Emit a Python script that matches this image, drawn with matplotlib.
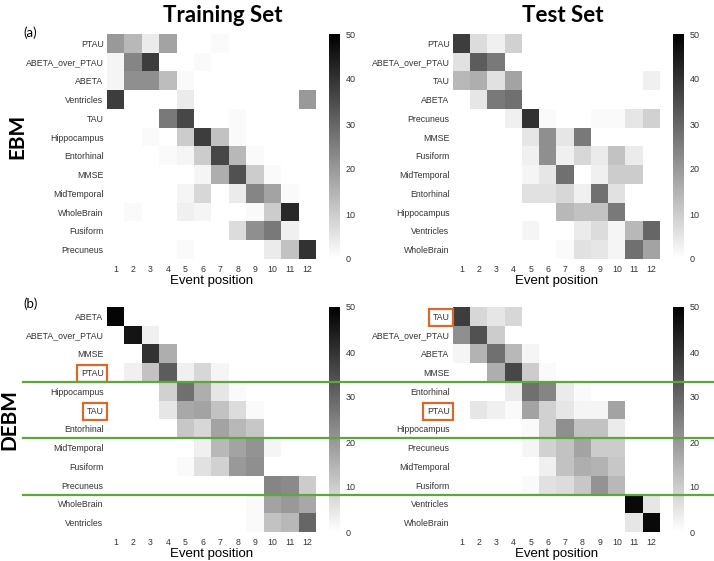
import matplotlib
matplotlib.use('Agg')
import matplotlib.pyplot as plt
from matplotlib.lines import Line2D
from matplotlib.transforms import blended_transform_factory

posicoes = [str(i) for i in range(1, 13)]

# (a) EBM - treino
ebm_treino_nomes = ['PTAU', 'ABETA_over_PTAU', 'ABETA', 'Ventricles', 'TAU',
                    'Hippocampus', 'Entorhinal', 'MMSE', 'MidTemporal',
                    'WholeBrain', 'Fusiform', 'Precuneus']
ebm_treino = [
    [20, 14, 4, 18, 0, 0, 1, 0, 0, 0, 0, 0],
    [2, 24, 38, 0, 0, 1, 0, 0, 0, 0, 0, 0],
    [2, 22, 22, 13, 1, 0, 0, 0, 0, 0, 0, 0],
    [38, 0, 0, 0, 4, 0, 0, 0, 0, 0, 0, 20],
    [0, 0, 0, 26, 36, 0, 0, 1, 0, 0, 0, 0],
    [0, 0, 1, 0, 10, 38, 12, 1, 0, 0, 0, 0],
    [0, 0, 0, 1, 2, 10, 36, 14, 1, 0, 0, 0],
    [0, 0, 0, 0, 0, 2, 16, 34, 10, 1, 0, 0],
    [0, 0, 0, 0, 2, 8, 0, 4, 24, 18, 1, 0],
    [0, 1, 0, 0, 3, 2, 0, 0, 1, 10, 42, 0],
    [0, 0, 0, 0, 0, 0, 0, 7, 22, 26, 3, 0],
    [0, 0, 0, 0, 1, 0, 0, 0, 0, 4, 12, 40],
]

# (a) EBM - teste
ebm_teste_nomes = ['PTAU', 'ABETA_over_PTAU', 'TAU', 'ABETA', 'Precuneus',
                   'MMSE', 'Fusiform', 'MidTemporal', 'Entorhinal',
                   'Hippocampus', 'Ventricles', 'WholeBrain']
ebm_teste = [
    [38, 7, 3, 9, 0, 0, 0, 0, 0, 0, 0, 0],
    [6, 32, 26, 0, 0, 0, 0, 0, 0, 0, 0, 0],
    [14, 16, 6, 18, 0, 0, 0, 0, 0, 0, 0, 3],
    [0, 5, 26, 28, 0, 0, 0, 0, 0, 0, 0, 0],
    [0, 0, 0, 3, 40, 1, 0, 0, 1, 1, 5, 9],
    [0, 0, 0, 0, 5, 22, 5, 26, 0, 0, 0, 0],
    [0, 0, 0, 0, 3, 22, 3, 8, 4, 12, 4, 0],
    [0, 0, 0, 0, 2, 5, 28, 0, 3, 10, 10, 0],
    [0, 0, 0, 0, 6, 6, 8, 3, 28, 6, 0, 0],
    [0, 0, 0, 0, 0, 0, 14, 12, 12, 26, 0, 0],
    [0, 0, 0, 0, 2, 0, 0, 4, 7, 2, 14, 30],
    [0, 0, 0, 0, 0, 0, 1, 6, 5, 2, 28, 18],
]

# (b) DEBM - treino
debm_treino_nomes = ['ABETA', 'ABETA_over_PTAU', 'MMSE', 'PTAU', 'Hippocampus',
                     'TAU', 'Entorhinal', 'MidTemporal', 'Fusiform',
                     'Precuneus', 'WholeBrain', 'Ventricles']
debm_treino = [
    [49, 0, 0, 0, 0, 0, 0, 0, 0, 0, 0, 0],
    [0, 46, 3, 0, 0, 0, 0, 0, 0, 0, 0, 0],
    [0, 0, 40, 16, 0, 0, 0, 0, 0, 0, 0, 0],
    [0, 3, 12, 32, 3, 8, 2, 0, 0, 0, 0, 0],
    [0, 0, 0, 9, 28, 16, 5, 1, 0, 0, 0, 0],
    [0, 0, 0, 5, 17, 18, 12, 7, 1, 0, 0, 0],
    [0, 0, 0, 0, 11, 8, 18, 14, 11, 0, 0, 0],
    [0, 0, 0, 0, 0, 3, 14, 18, 21, 2, 0, 0],
    [0, 0, 0, 0, 1, 6, 9, 20, 22, 0, 0, 0],
    [0, 0, 0, 0, 0, 0, 0, 0, 0, 24, 23, 10],
    [0, 0, 0, 0, 0, 0, 0, 0, 1, 18, 20, 17],
    [0, 0, 0, 0, 0, 0, 0, 0, 1, 12, 14, 30],
]

# (b) DEBM - teste
debm_teste_nomes = ['TAU', 'ABETA_over_PTAU', 'ABETA', 'MMSE', 'Entorhinal',
                    'PTAU', 'Hippocampus', 'Precuneus', 'MidTemporal',
                    'Fusiform', 'Ventricles', 'WholeBrain']
debm_teste = [
    [38, 8, 5, 8, 0, 0, 0, 0, 0, 0, 0, 0],
    [22, 34, 10, 0, 0, 0, 0, 0, 0, 0, 0, 0],
    [2, 15, 28, 14, 2, 0, 0, 0, 0, 0, 0, 0],
    [0, 0, 16, 36, 10, 1, 0, 0, 0, 0, 0, 0],
    [0, 0, 0, 4, 28, 24, 4, 1, 0, 0, 0, 0],
    [0, 5, 3, 1, 18, 9, 5, 2, 2, 18, 0, 0],
    [0, 0, 0, 0, 1, 9, 22, 12, 12, 4, 0, 0],
    [0, 0, 0, 0, 2, 9, 12, 18, 10, 10, 0, 0],
    [0, 0, 0, 0, 0, 3, 12, 16, 15, 11, 0, 0],
    [0, 0, 0, 0, 1, 6, 7, 11, 21, 14, 0, 0],
    [0, 0, 0, 0, 0, 0, 0, 0, 0, 0, 48, 5],
    [0, 0, 0, 0, 0, 0, 0, 0, 0, 0, 5, 48],
]

caixas_treino = ['PTAU', 'TAU']
caixas_teste = ['TAU', 'PTAU']
divisoes = [4, 7, 10]

plt.rcParams['font.family'] = ['Liberation Sans', 'DejaVu Sans']

W, H = 714, 561
fig = plt.figure(figsize=(W / 100, H / 100), dpi=100)


def caixa(x0, y0, x1, y1):
    return [x0 / W, 1 - y1 / H, (x1 - x0) / W, (y1 - y0) / H]


def desenha(pos_ax, pos_cb, matriz, nomes, destacar=()):
    ax = fig.add_axes(caixa(*pos_ax))
    cax = fig.add_axes(caixa(*pos_cb))
    im = ax.imshow(matriz, cmap='gray_r', vmin=0, vmax=50, aspect='auto',
                   interpolation='nearest')
    ax.set_xticks(range(len(posicoes)))
    ax.set_xticklabels(posicoes, fontsize=6.3, color='#333333')
    ax.set_yticks(range(len(nomes)))
    ax.set_yticklabels(nomes, fontsize=6.3, color='#333333')
    ax.tick_params(length=0, pad=2.5)
    ax.tick_params(axis='x', pad=4)
    for s in ax.spines.values():
        s.set_visible(False)
    ax.set_xlabel('Event position', fontsize=9.5, labelpad=1)
    for lbl in ax.get_yticklabels():
        if lbl.get_text() in destacar:
            lbl.set_bbox(dict(boxstyle='square,pad=0.45', facecolor='white',
                              edgecolor='#D8692A', linewidth=1.6))
    cb = fig.colorbar(im, cax=cax, ticks=[0, 10, 20, 30, 40, 50])
    cb.outline.set_visible(False)
    cb.ax.tick_params(length=0, labelsize=6.5, pad=4, colors='#333333')
    return ax


desenha((107, 34, 316, 259), (329, 34, 340, 259), ebm_treino, ebm_treino_nomes)
desenha((453, 34, 660, 259), (673, 34, 684, 259), ebm_teste, ebm_teste_nomes)
ax_b = desenha((107, 307, 316, 532), (329, 307, 340, 532), debm_treino,
               debm_treino_nomes, caixas_treino)
desenha((453, 307, 660, 532), (673, 307, 684, 532), debm_teste,
        debm_teste_nomes, caixas_teste)

# linhas verdes separando grupos
trans = blended_transform_factory(fig.transFigure, ax_b.transData)
for d in divisoes:
    fig.add_artist(Line2D([23 / W, 1.0], [d - 0.5, d - 0.5], transform=trans,
                          color='#5DA83B', linewidth=1.6, clip_on=False))

fig.text(223 / W, 1 - 15 / H, 'Training Set', fontsize=16, fontweight='bold',
         family='Lato', ha='center', va='center')
fig.text(563 / W, 1 - 15 / H, 'Test Set', fontsize=16, fontweight='bold',
         family='Lato', ha='center', va='center')
fig.text(23 / W, 1 - 33 / H, '(a)', fontsize=9.5, family='Lato',
         ha='left', va='center')
fig.text(23 / W, 1 - 304 / H, '(b)', fontsize=9.5, family='Lato',
         ha='left', va='center')
fig.text(17 / W, 1 - 136 / H, 'EBM', fontsize=15, fontweight='bold',
         family='Lato', rotation=90, ha='center', va='center')
fig.text(9 / W, 1 - 420 / H, 'DEBM', fontsize=15, fontweight='bold',
         family='Lato', rotation=90, ha='center', va='center')

fig.savefig('out.png', dpi=100)
